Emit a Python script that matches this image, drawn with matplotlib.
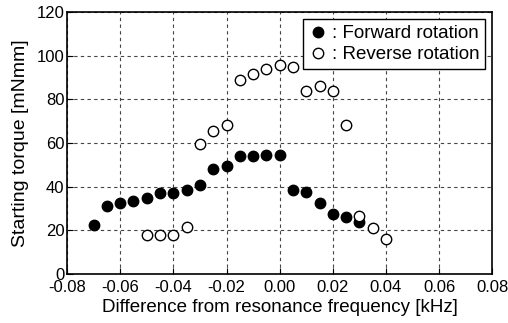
import matplotlib
matplotlib.use("Agg")
import matplotlib.pyplot as plt

plt.rcParams["font.family"] = ["Liberation Sans", "DejaVu Sans"]

# forward rotation: frequency difference [kHz] and starting torque [mNmm]
fwd_x = [-0.070, -0.065, -0.060, -0.055, -0.050, -0.045, -0.040, -0.035, -0.030, -0.025,
         -0.020, -0.015, -0.010, -0.005, 0.000, 0.005, 0.010, 0.015, 0.020, 0.025, 0.030]
fwd_y = [22.3, 31.0, 32.6, 33.3, 34.9, 37.0, 37.0, 38.5, 40.8, 47.9,
         49.4, 53.8, 53.8, 54.5, 54.5, 38.5, 37.7, 32.6, 27.6, 25.9, 23.8]

# reverse rotation
rev_x = [-0.050, -0.045, -0.040, -0.035, -0.030, -0.025, -0.020, -0.015, -0.010, -0.005,
         0.000, 0.005, 0.010, 0.015, 0.020, 0.025, 0.030, 0.035, 0.040]
rev_y = [17.9, 17.9, 17.9, 21.4, 59.7, 65.5, 68.2, 88.6, 91.7, 94.0,
         95.5, 94.7, 83.6, 85.9, 83.6, 68.2, 26.7, 20.8, 15.8]

xticks = [-0.08, -0.06, -0.04, -0.02, 0.00, 0.02, 0.04, 0.06, 0.08]
yticks = [0, 20, 40, 60, 80, 100, 120]

fig = plt.figure(figsize=(5.08, 3.23), dpi=100)
ax = fig.add_axes([0.132, 0.152, 0.837, 0.811])

ax.plot(fwd_x, fwd_y, "o", ms=7.5, mfc="black", mec="black", mew=1.0,
        label=": Forward rotation", zorder=3)
ax.plot(rev_x, rev_y, "o", ms=7.5, mfc="white", mec="black", mew=1.0,
        label=": Reverse rotation", zorder=4)

ax.set_xlim(-0.08, 0.08)
ax.set_ylim(0, 120)
ax.set_xticks(xticks)
ax.set_xticklabels([f"{v:.2f}" for v in xticks])
ax.set_yticks(yticks)
ax.tick_params(direction="in", labelsize=12, length=4, width=0.8, pad=2)
ax.tick_params(axis="x", pad=4.5)
ax.grid(True, color="#444444", ls=(0, (3, 3)), lw=0.8)
for s in ax.spines.values():
    s.set_linewidth(1.2)

ax.set_xlabel("Difference from resonance frequency [kHz]", fontsize=13.5, labelpad=3)
ax.set_ylabel("Starting torque [mNmm]", fontsize=14, labelpad=5)

leg = ax.legend(loc="upper right", fontsize=13.5, handletextpad=0.2, handlelength=1.0,
                borderpad=0.3, labelspacing=0.22, fancybox=False, framealpha=1,
                borderaxespad=0.4)
leg.get_frame().set_edgecolor("black")
leg.get_frame().set_linewidth(1.0)

fig.savefig("out.png", dpi=100)
